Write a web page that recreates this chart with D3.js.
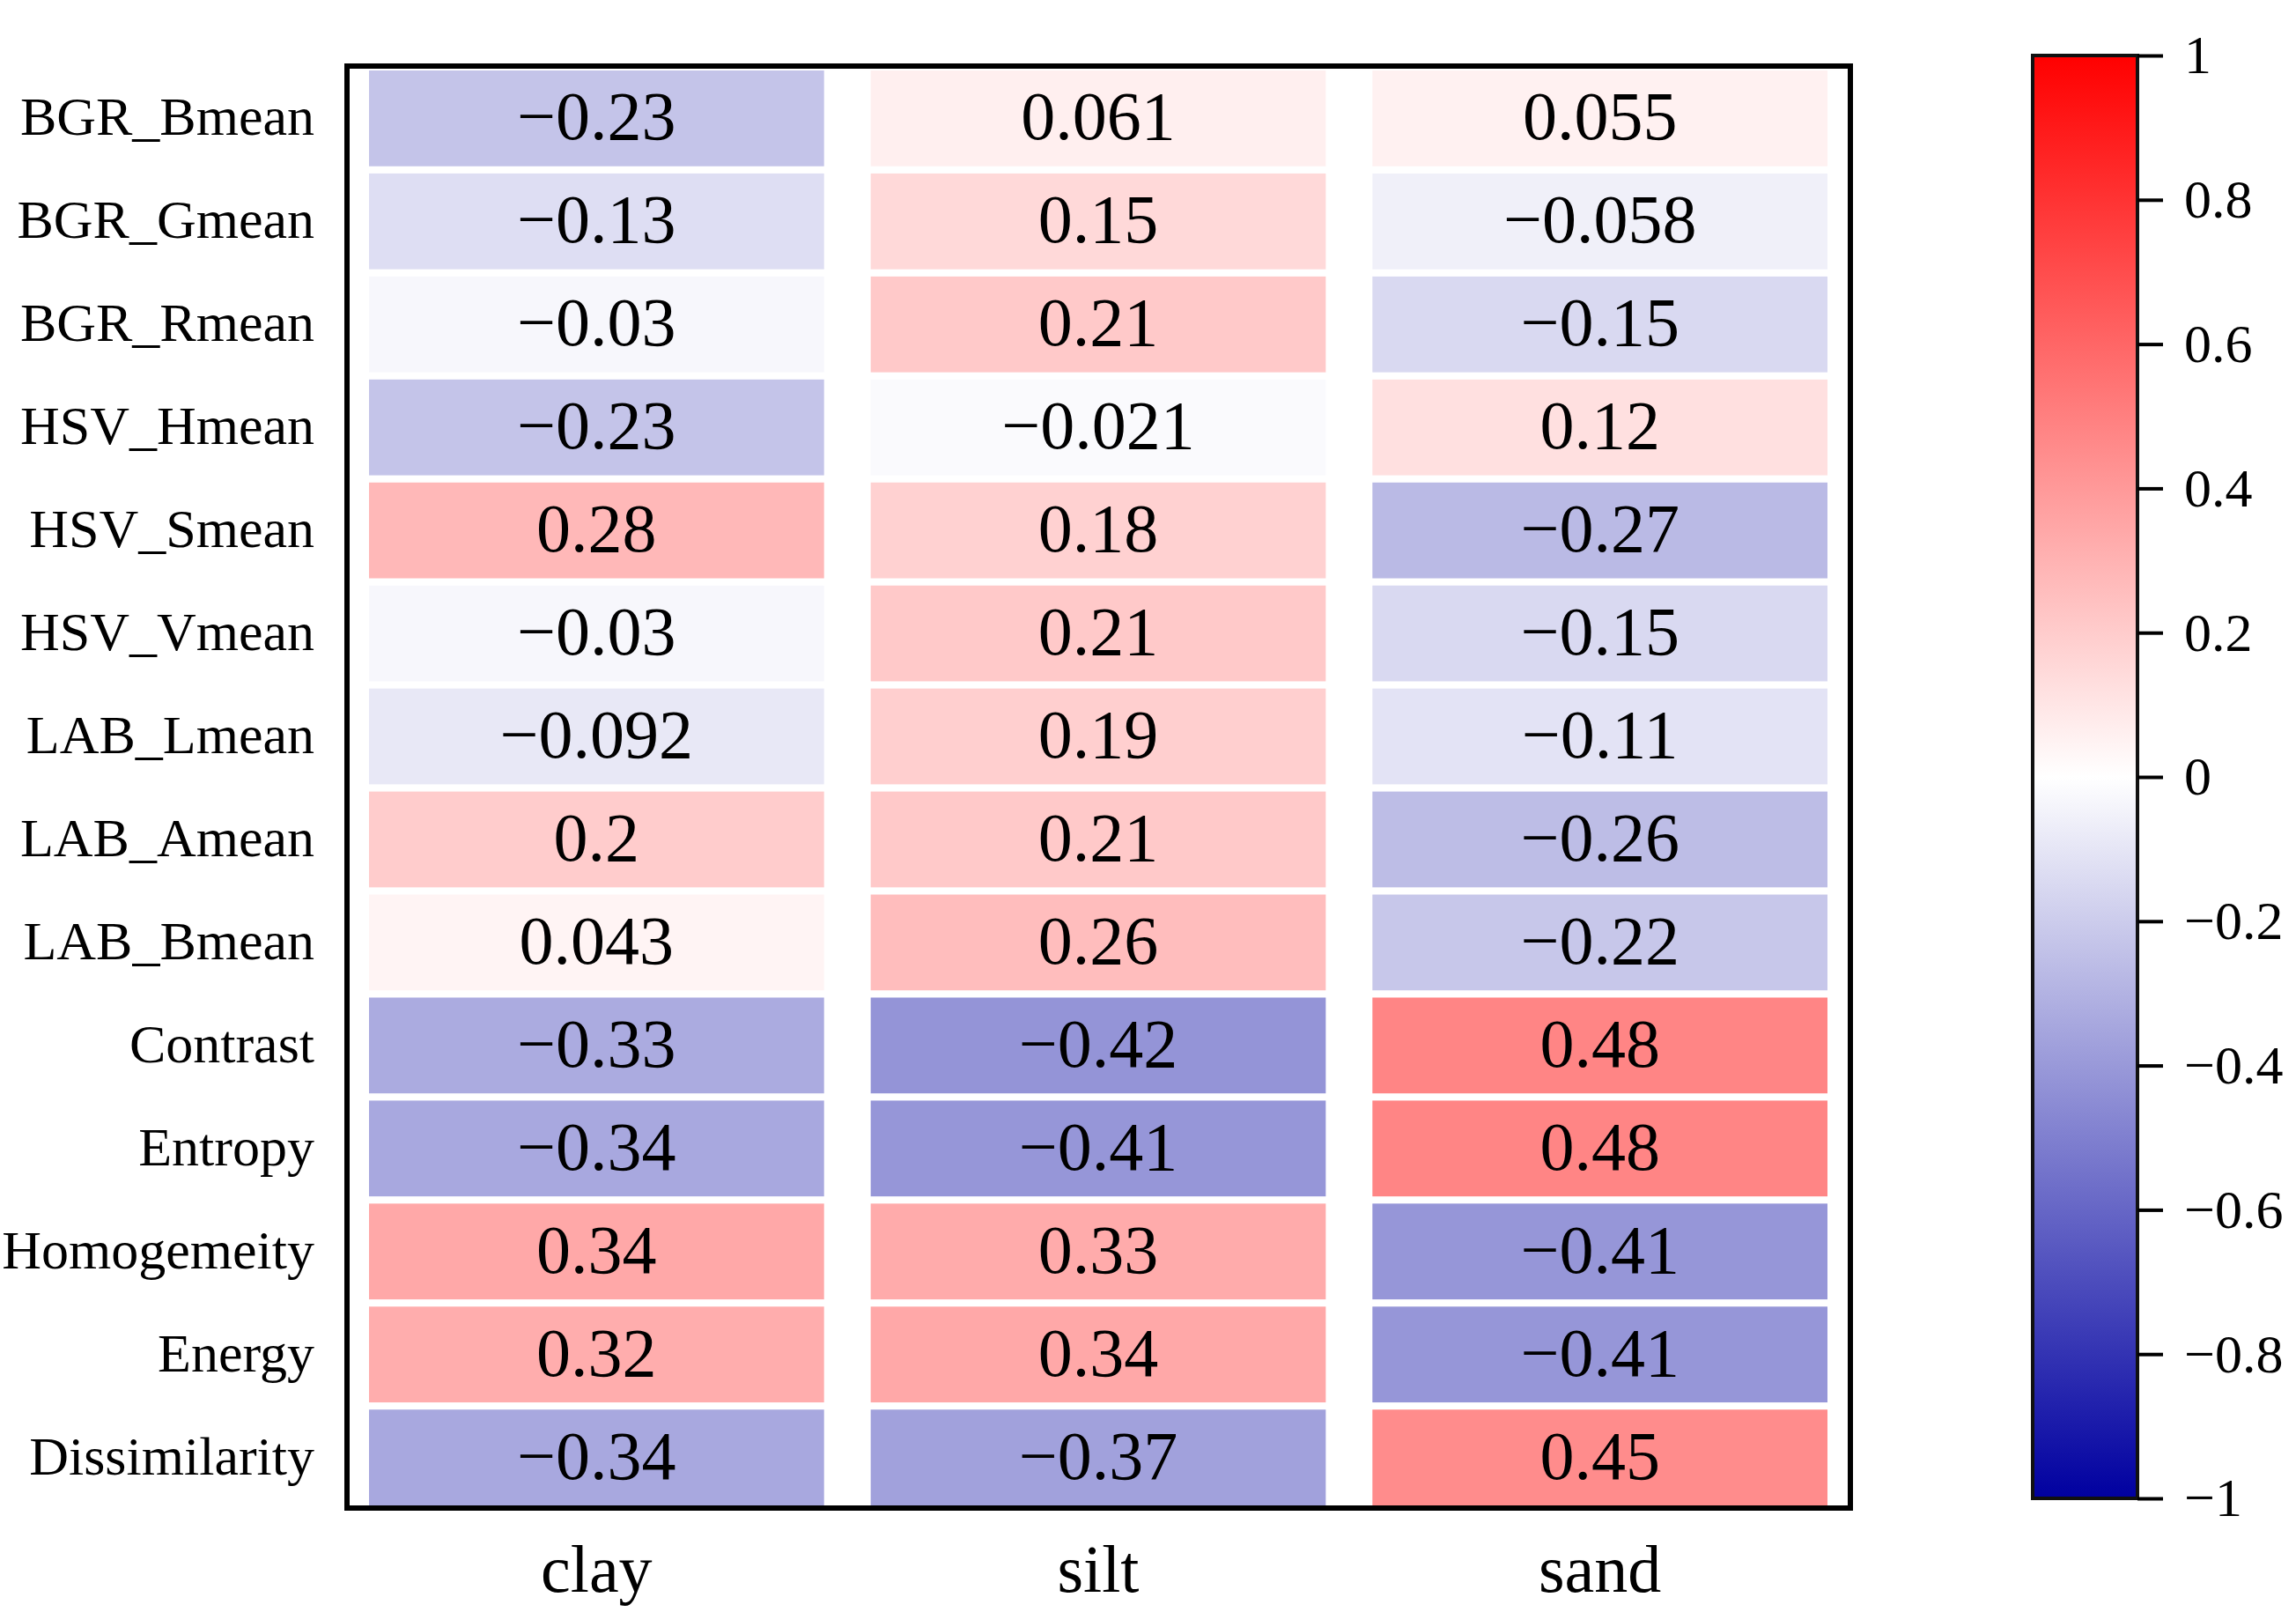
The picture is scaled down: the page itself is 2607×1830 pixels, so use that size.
<!DOCTYPE html>
<html>
<head>
<meta charset="utf-8">
<style>
    body { margin: 0; background: #fff; }
    text { font-family: "Liberation Serif", "Times New Roman", serif; fill: #000; }
</style>
</head>
<body>
<svg width="2607" height="1830"></svg>
<script src="https://cdn.jsdelivr.net/npm/d3@7"></script>
<script>
    var svg = d3.select("svg")

    // data
    var rowNames = ["BGR_Bmean", "BGR_Gmean", "BGR_Rmean", "HSV_Hmean", "HSV_Smean", "HSV_Vmean",
        "LAB_Lmean", "LAB_Amean", "LAB_Bmean", "Contrast", "Entropy", "Homogemeity", "Energy", "Dissimilarity"]
    var colNames = ["clay", "silt", "sand"]
    var clay = [-0.23, -0.13, -0.03, -0.23, 0.28, -0.03, -0.092, 0.2, 0.043, -0.33, -0.34, 0.34, 0.32, -0.34]
    var silt = [0.061, 0.15, 0.21, -0.021, 0.18, 0.21, 0.19, 0.21, 0.26, -0.42, -0.41, 0.33, 0.34, -0.37]
    var sand = [0.055, -0.058, -0.15, 0.12, -0.27, -0.15, -0.11, -0.26, -0.22, 0.48, 0.48, -0.41, -0.41, 0.45]
    var barTicks = [1, 0.8, 0.6, 0.4, 0.2, 0, -0.2, -0.4, -0.6, -0.8, -1]

    var series = [clay, silt, sand]
    var cells = []
    series.forEach(function (vals, j) {
        vals.forEach(function (v, i) {
            cells.push({ row: rowNames[i], col: colNames[j], value: v })
        })
    })

    var color = d3.scaleLinear()
        .domain([-1, 0, 1])
        .range(["rgb(0,0,160)", "#ffffff", "#ff0000"])

    var x = d3.scaleBand().domain(colNames).range([419, 2075]).paddingInner(0.093)
    var y = d3.scaleBand().domain(rowNames).range([80, 1709]).paddingInner(0.07)

    // cells
    svg.append("g")
        .selectAll("rect")
        .data(cells)
        .enter().append("rect")
        .attr("x", d => x(d.col))
        .attr("y", d => y(d.row))
        .attr("width", x.bandwidth())
        .attr("height", y.bandwidth())
        .attr("fill", d => color(d.value))

    var fmt = function (v) { return String(v).replace("-", "\u2212") }

    svg.append("g")
        .selectAll("text")
        .data(cells)
        .enter().append("text")
        .attr("x", d => x(d.col) + x.bandwidth() / 2)
        .attr("y", d => y(d.row) + y.bandwidth() / 2 + 24)
        .attr("text-anchor", "middle")
        .style("font-size", "78px")
        .text(d => fmt(d.value))

    // frame
    svg.append("rect")
        .attr("x", 394).attr("y", 75)
        .attr("width", 2101 - 394).attr("height", 1712 - 75)
        .attr("fill", "none")
        .attr("stroke", "#000")
        .attr("stroke-width", 6)

    // row labels
    svg.append("g")
        .selectAll("text")
        .data(rowNames)
        .enter().append("text")
        .attr("x", 357)
        .attr("y", d => y(d) + y.bandwidth() / 2 + 19)
        .attr("text-anchor", "end")
        .style("font-size", "62px")
        .text(d => d)

    // column labels
    svg.append("g")
        .selectAll("text")
        .data(colNames)
        .enter().append("text")
        .attr("x", d => x(d) + x.bandwidth() / 2)
        .attr("y", 1807)
        .attr("text-anchor", "middle")
        .style("font-size", "76px")
        .text(d => d)

    // colour bar
    var barX = 2308, barW = 119
    var cy = d3.scaleLinear().domain([-1, 1]).range([1701, 63])

    var grad = svg.append("defs").append("linearGradient")
        .attr("id", "cbar")
        .attr("x1", 0).attr("y1", 1).attr("x2", 0).attr("y2", 0)
    grad.selectAll("stop")
        .data([-1, 0, 1])
        .enter().append("stop")
        .attr("offset", d => (d + 1) / 2)
        .attr("stop-color", d => color(d))

    svg.append("rect")
        .attr("x", barX).attr("y", cy(1))
        .attr("width", barW).attr("height", cy(-1) - cy(1))
        .attr("fill", "url(#cbar)")
        .attr("stroke", "#111")
        .attr("stroke-width", 4)

    var axis = d3.axisRight(cy)
        .tickValues(barTicks)
        .tickSize(29)
        .tickPadding(24)
        .tickFormat(d => fmt(d))

    var ag = svg.append("g")
        .attr("transform", "translate(" + (barX + barW) + ",0)")
        .call(axis)
    ag.select(".domain").remove()
    ag.selectAll(".tick line").attr("stroke", "#000").attr("stroke-width", 4)
    ag.selectAll(".tick text")
        .style("font-size", "62px")
        .style("font-family", "Liberation Serif, Times New Roman, serif")
        .attr("fill", "#000")
</script>
</body>
</html>
